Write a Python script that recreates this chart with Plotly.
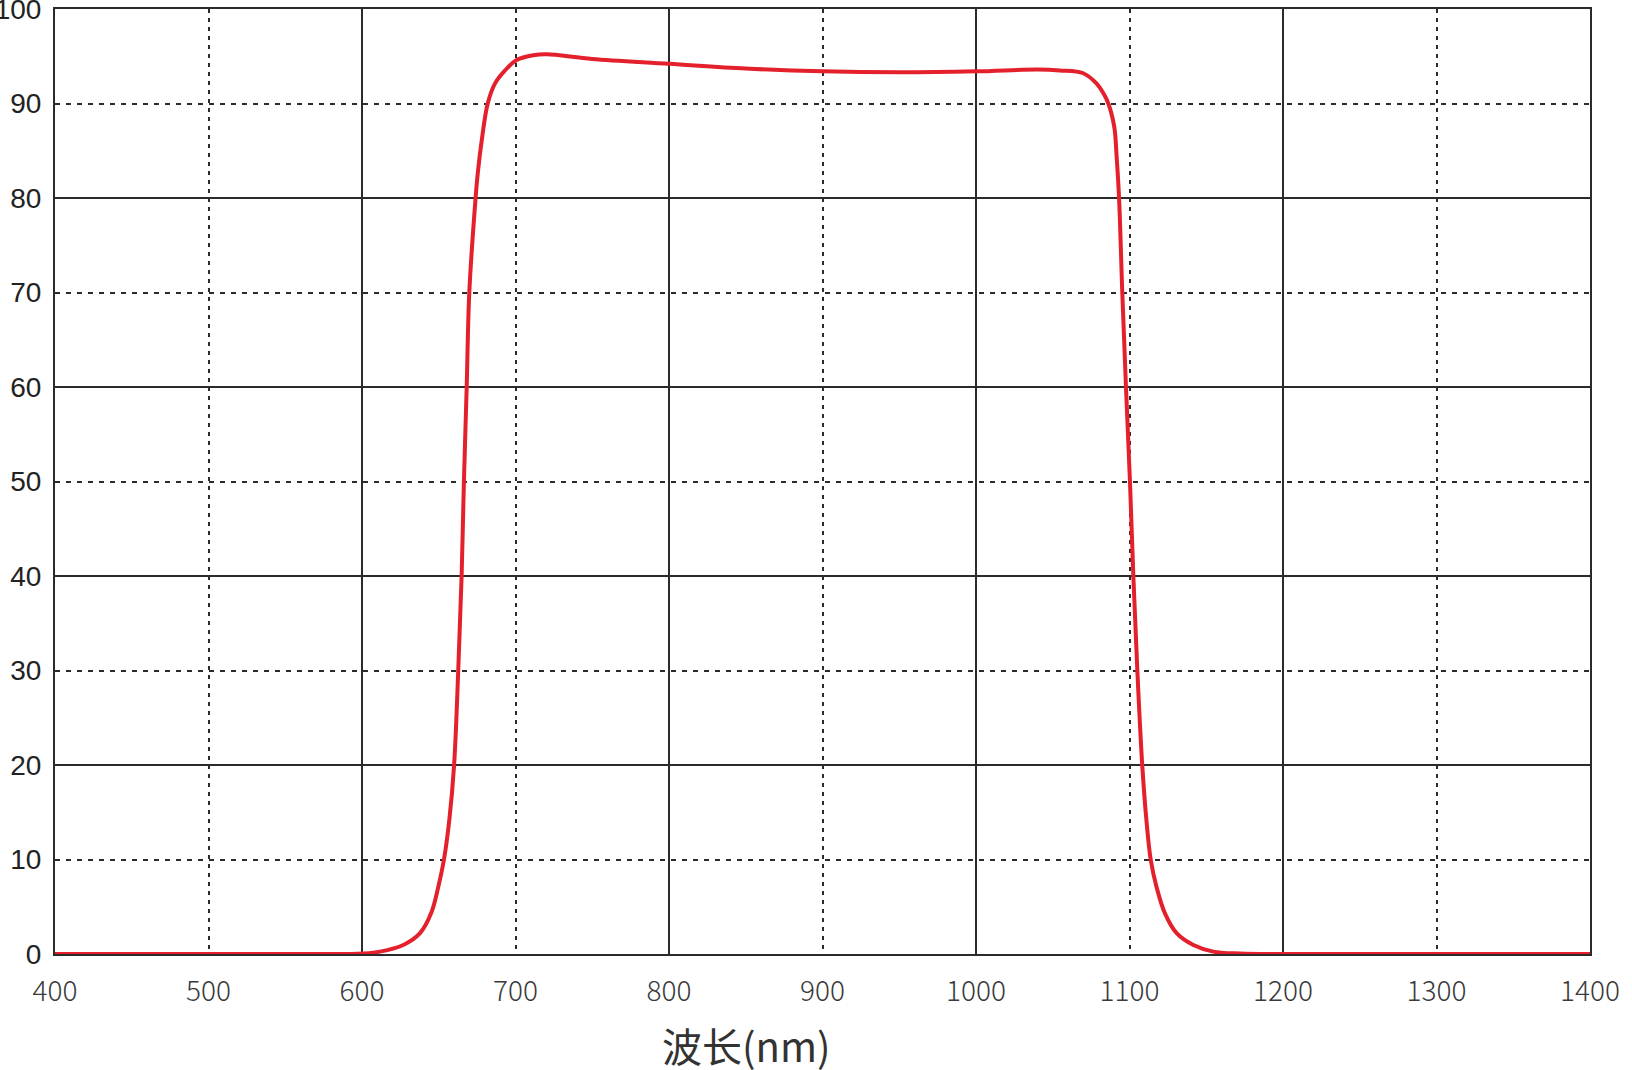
import plotly.graph_objects as go

# transmission curve
wavelength = [400, 500, 590, 600.8, 611.7, 626.9, 637.8, 645, 649.7, 653.4, 656.9,
              660, 662.7, 664.9, 666.4, 668.2, 669.9, 674, 675.4, 678, 681.9,
              686.6, 693.2, 700.8, 711.6, 720.3, 750, 800, 850, 900, 950, 1000,
              1040, 1054.7, 1069.9, 1078.6, 1082.9, 1086.2, 1090.1, 1091.6,
              1093.2, 1095.3, 1097.7, 1100.3, 1102.5, 1105.1, 1108.3, 1111.0,
              1113.8, 1117.6, 1123.1, 1130.7, 1141.6, 1154.6, 1172, 1200,
              1300, 1400]
transmittance = [0, 0, 0, 0.05, 0.25, 0.95, 2.2, 4.3, 7.1, 10, 14.2,
                 20, 30, 40, 50, 60, 70, 80, 82.6, 86.1, 90,
                 92.1, 93.5, 94.6, 95.1, 95.2, 94.7, 94.2, 93.7, 93.4, 93.3, 93.4,
                 93.6, 93.5, 93.2, 92.1, 91.1, 90, 87.5, 84.4,
                 80, 70, 60, 50, 40, 30, 20, 14.2,
                 10, 7.1, 4.3, 2.2, 0.95, 0.25, 0.05, 0,
                 0, 0]

x_ticks = list(range(400, 1401, 100))
y_ticks = list(range(0, 101, 10))
x_title = "波长(nm)"

grid_col = "#2b2b2b"

fig = go.Figure()
fig.add_trace(go.Scatter(x=wavelength, y=transmittance, mode="lines",
                         line=dict(color="#e3202c", width=4, shape="spline", smoothing=1.0),
                         hoverinfo="x+y", showlegend=False))
# invisible trace on the grid axes so they get drawn
fig.add_trace(go.Scatter(x=[400, 1400], y=[0, 100], xaxis="x2", yaxis="y2",
                         mode="markers", marker=dict(opacity=0), hoverinfo="skip",
                         showlegend=False))

fig.update_layout(
    width=1632, height=1070,
    margin=dict(l=55, r=42, t=9, b=116, autoexpand=False),
    paper_bgcolor="white", plot_bgcolor="white",
    xaxis=dict(range=[400, 1400], tickvals=x_ticks, showgrid=False, zeroline=False,
               showline=True, linecolor=grid_col, linewidth=2, mirror=True,
               ticks="", ticklabelstandoff=11, ticklabeloverflow="allow",
               tickfont=dict(family="Noto Sans CJK SC", size=28, color="#3a3a3a", weight=300)),
    yaxis=dict(range=[0, 100], tickvals=y_ticks, showgrid=False, zeroline=False,
               showline=True, linecolor=grid_col, linewidth=2, mirror=True,
               ticks="", ticklabelstandoff=6, ticklabeloverflow="allow",
               tickfont=dict(family="Liberation Sans", size=28, color="#222222")),
    xaxis2=dict(range=[400, 1400], overlaying="x", dtick=200, tick0=400,
                showgrid=True, gridcolor=grid_col, gridwidth=2, showticklabels=False,
                zeroline=False, ticks="",
                minor=dict(dtick=100, tick0=400, showgrid=True, gridcolor=grid_col,
                           gridwidth=2, griddash="4px,5px")),
    yaxis2=dict(range=[0, 100], overlaying="y", dtick=20, tick0=0,
                showgrid=True, gridcolor=grid_col, gridwidth=2, showticklabels=False,
                zeroline=False, ticks="",
                minor=dict(dtick=10, tick0=0, showgrid=True, gridcolor=grid_col,
                           gridwidth=2, griddash="5px,6px")),
    annotations=[dict(text=x_title, xref="paper", yref="paper", x=0.45, y=-0.096,
                      xanchor="center", yanchor="middle", showarrow=False,
                      font=dict(family="Noto Sans CJK SC", size=40, color="#333333"))],
)

# page has a default 8px body margin, drop it so the figure fills the window
fig.write_html("out.html", config={"displayModeBar": False},
               post_script="document.body.style.margin='0';")
